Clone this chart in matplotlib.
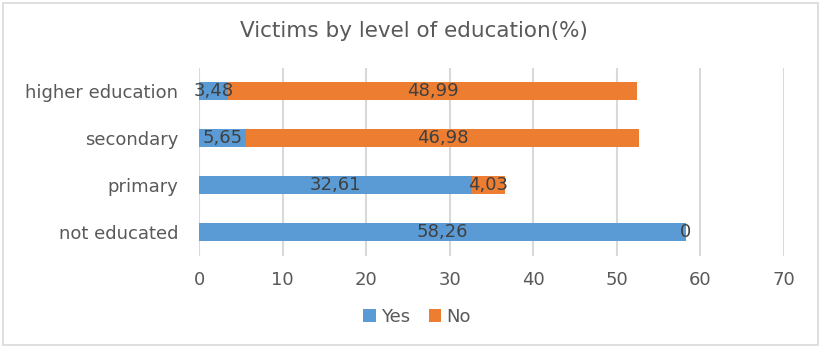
import matplotlib
matplotlib.use("Agg")
import matplotlib.pyplot as plt
from matplotlib.patches import Rectangle
import numpy as np

plt.rcParams['font.family'] = ['DejaVu Sans']

categories = ["not educated", "primary", "secondary", "higher education"]
yes_vals = [58.26, 32.61, 5.65, 3.48]
no_vals = [0, 4.03, 46.98, 48.99]
x_ticks = [0, 10, 20, 30, 40, 50, 60, 70]

BLUE = "#5B9BD5"
ORANGE = "#ED7D31"
GREY = "#595959"

def fmt(v):
    # comma as decimal separator
    if v == 0:
        return "0"
    return "{:.2f}".format(v).replace(".", ",")

fig = plt.figure(figsize=(8.23, 3.48), dpi=100)
ax = fig.add_axes([0.2418, 0.2658, 0.7108, 0.540])

y = np.arange(len(categories))
h = 0.37
b1 = ax.barh(y, yes_vals, height=h, color=BLUE, label="Yes", zorder=3)
b2 = ax.barh(y, no_vals, height=h, left=yes_vals, color=ORANGE, label="No", zorder=3)

for bars, vals in ((b1, yes_vals), (b2, no_vals)):
    for rect, v in zip(bars, vals):
        cx = rect.get_x() + rect.get_width() / 2
        cy = rect.get_y() + rect.get_height() / 2
        ax.text(cx, cy, fmt(v), ha="center", va="center", fontsize=13,
                color="#404040", zorder=4)

ax.set_xlim(0, 70)
ax.set_ylim(-0.5, len(categories) - 0.5)
ax.set_xticks(x_ticks)
ax.set_yticks(y)
ax.set_yticklabels(categories)
ax.tick_params(axis="x", length=0, pad=11, labelsize=13, labelcolor=GREY)
ax.tick_params(axis="y", length=0, pad=15, labelsize=13, labelcolor=GREY)
ax.grid(axis="x", color="#D9D9D9", linewidth=1.5, zorder=0)
for s in ax.spines.values():
    s.set_visible(False)

fig.text(0.503, 0.912, "Victims by level of education(%)", ha="center", va="center",
         fontsize=15.5, color=GREY)

fig.legend(handles=[b1, b2], labels=["Yes", "No"], loc="center",
           bbox_to_anchor=(0.507, 0.09), ncol=2, frameon=False, fontsize=13,
           handlelength=0.7, handleheight=0.7, handletextpad=0.3,
           columnspacing=1.0, labelcolor=GREY)

# chart border
fig.patches.append(Rectangle((0.004, 0.008), 0.99, 0.984, transform=fig.transFigure,
                             fill=False, edgecolor="#D9D9D9", linewidth=1.2))

fig.savefig("out.png", dpi=100)
